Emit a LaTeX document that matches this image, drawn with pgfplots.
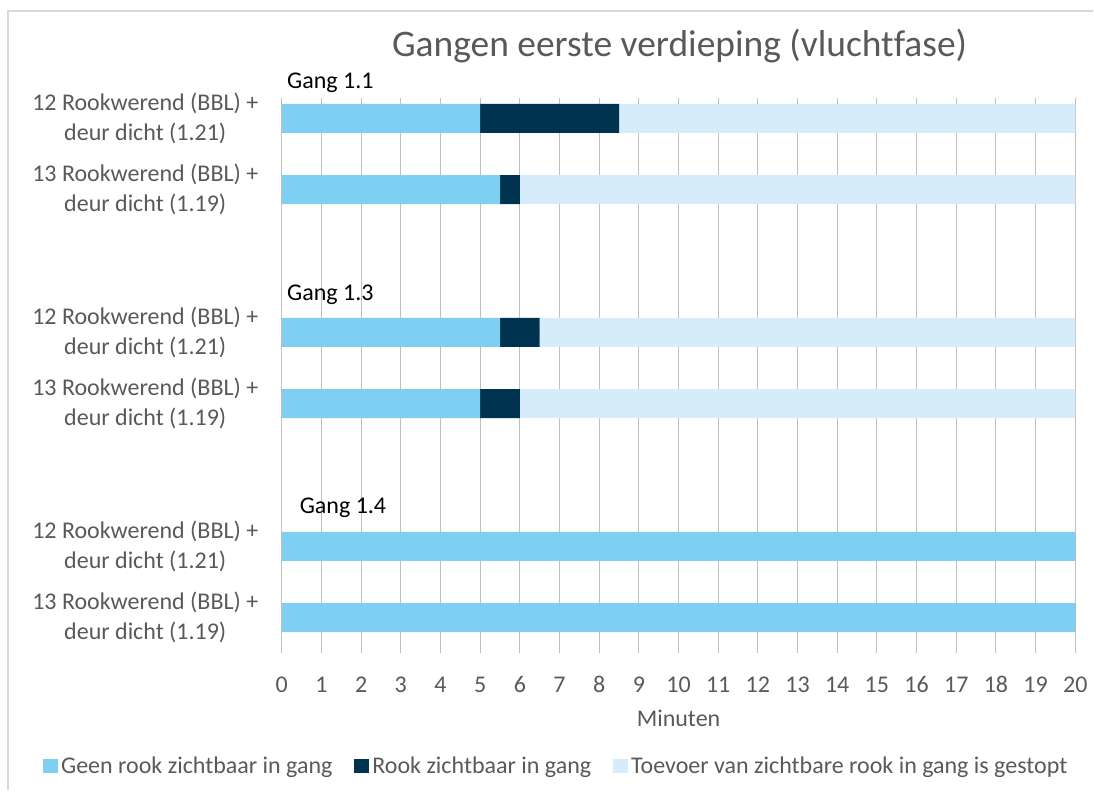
\documentclass[border=0pt]{standalone}
\usepackage{fontspec}
\setmainfont{Carlito}[Ligatures=NoCommon]
\usepackage{pgfplots}
\pgfplotsset{compat=1.18}
\definecolor{cA}{HTML}{7FCFF2}
\definecolor{cB}{HTML}{003350}
\definecolor{cC}{HTML}{D6ECFA}
\definecolor{grid}{HTML}{D9D9D9}
\definecolor{txt}{HTML}{595959}
\begin{document}
\begin{tikzpicture}[x=1pt,y=1pt]
\path (0,0) rectangle (1094,791);
\draw[grid, line width=1.5pt] (8,0) -- (8,780) -- (1094,780);
\node[txt, font=\fontsize{37.5}{44}\selectfont, anchor=center] at (680,745) {Gangen eerste verdieping (vluchtfase)};
\begin{axis}[
  at={(282pt,138pt)}, anchor=south west,
  width=794pt, height=555pt, scale only axis,
  xbar stacked, bar width=29pt,
  xmin=0, xmax=20, ymin=0.713, ymax=8.49, y dir=reverse,
  axis line style={draw=none},
  xtick={0,1,...,20}, major tick length=0pt,
  xmajorgrids, grid style={grid, line width=1pt},
  ytick={1,2,4,5,7,8},
  yticklabels={12 Rookwerend (BBL) +\\deur dicht (1.21),13 Rookwerend (BBL) +\\deur dicht (1.19),12 Rookwerend (BBL) +\\deur dicht (1.21),13 Rookwerend (BBL) +\\deur dicht (1.19),12 Rookwerend (BBL) +\\deur dicht (1.21),13 Rookwerend (BBL) +\\deur dicht (1.19)},
  yticklabel style={align=center, font=\fontsize{24}{30}\selectfont, text=txt, xshift=-20pt},
  xticklabel style={font=\fontsize{24}{28}\selectfont, text=txt, yshift=-20pt, text height=16pt, text depth=0pt},
  /pgf/number format/assume math mode=true,
  xlabel={Minuten}, xlabel style={font=\fontsize{24}{28}\selectfont, text=txt, yshift=-11pt},
  legend columns=3,
  legend style={at={(-0.301,-0.204)}, anchor=west, draw=none, fill=none, inner sep=0pt,
    font=\fontsize{24}{28}\selectfont, text=txt,
    /tikz/every even column/.append style={column sep=20pt}},
  legend cell align=left,
  legend image code/.code={\fill[#1] (0pt,-7pt) rectangle (15pt,7pt); \path (0pt,0pt) -- (16pt,0pt);},
  clip=false,
]
\addplot[fill=cA, draw=none] coordinates {(5,1) (5.5,2) (5.5,4) (5,5) (20,7) (20,8)};
\addplot[fill=cB, draw=none] coordinates {(3.5,1) (0.5,2) (1,4) (1,5) (0,7) (0,8)};
\addplot[fill=cC, draw=none] coordinates {(11.5,1) (14,2) (13.5,4) (14,5) (0,7) (0,8)};
\legend{Geen rook zichtbaar in gang, Rook zichtbaar in gang, Toevoer van zichtbare rook in gang is gestopt}
\node[anchor=west, font=\fontsize{24}{28}\selectfont, inner sep=0pt] at (axis cs:0.13,0.50) {Gang 1.1};
\node[anchor=west, font=\fontsize{24}{28}\selectfont, inner sep=0pt] at (axis cs:0.13,3.475) {Gang 1.3};
\node[anchor=west, font=\fontsize{24}{28}\selectfont, inner sep=0pt] at (axis cs:0.45,6.46) {Gang 1.4};
\end{axis}
\end{tikzpicture}
\end{document}
